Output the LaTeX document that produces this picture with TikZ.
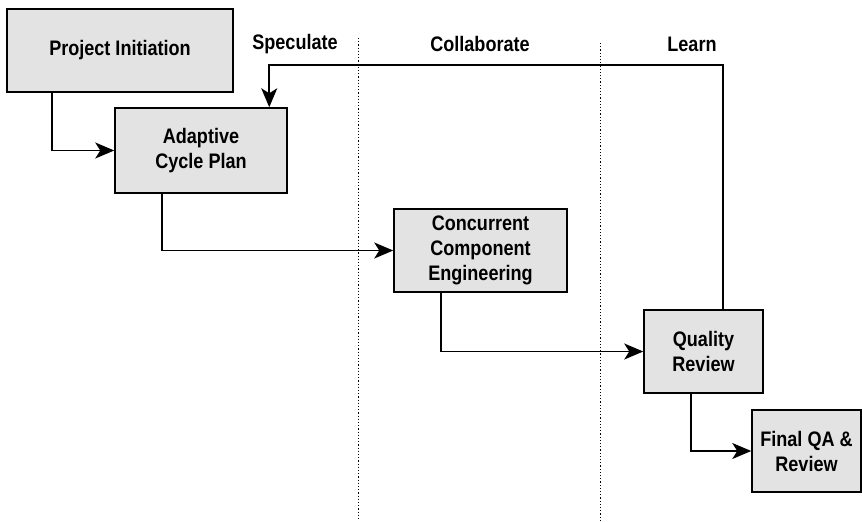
\documentclass[tikz,border=0pt]{standalone}
\usepackage{fontspec}
\setmainfont{Liberation Sans}[FakeStretch=0.86]
\usepackage{tikz}
\usetikzlibrary{calc,arrows.meta}
\usepackage{xcolor}
\definecolor{boxgray}{RGB}{227,227,227}
\newcommand{\boxfont}{\fontsize{10.5}{12.5}\selectfont\bfseries}

\begin{document}
\begin{tikzpicture}[x=0.5pt,y=-0.5pt,
  stage/.style={draw=black, line width=0.75pt, fill=boxgray, align=center, inner sep=0pt, font=\boxfont},
  phase/.style={font=\boxfont, inner sep=0pt},
  flow/.style={-{Stealth[length=9.5pt,width=8pt,inset=2.5pt]}, line width=0.8pt},
  lane/.style={line width=0.45pt, dash pattern=on 0.6pt off 1pt}]

\useasboundingbox (0,0) rectangle (862,521);

% Phase labels and lane dividers
\node[phase] (spec) at (295,44) {Speculate};
\node[phase] (coll) at (480,44) {Collaborate};
\node[phase] (learn) at (692,44) {Learn};

\draw[lane] (358,38) -- (358,521);
\draw[lane] (600,43) -- (600,521);

% Stages
\node[stage, minimum width=113pt, minimum height=41.5pt] (pi) at (120,50.5) {Project Initiation};
\node[stage, minimum width=86pt, minimum height=42.5pt] (acp) at (201,150.5) {Adaptive\\Cycle Plan};
\node[stage, minimum width=86.5pt, minimum height=41.5pt] (cce) at (480.5,250.5) {Concurrent\\Component\\Engineering};
\node[stage, minimum width=59.5pt, minimum height=41.5pt] (qr) at (703.5,351.5) {Quality\\Review};
\node[stage, minimum width=54.5pt, minimum height=41pt] (fin) at (806.5,451) {Final QA \&\\Review};

% Flow between stages
\draw[flow] ($(pi.south west)+(46,0)$) |- (acp.west);
\draw[flow] ($(acp.south west)+(48,0)$) |- (cce.west);
\draw[flow] ($(cce.south west)+(48,0)$) |- (qr.west);
\draw[flow] ($(qr.south west)+(48,0)$) |- (fin.west);

% Learning loop back to the cycle plan
\coordinate (loop) at ($(qr.north west)+(80,-244)$);
\draw[flow] ($(qr.north west)+(80,0)$) -- (loop) -| ($(acp.north west)+(155,0)$);

\end{tikzpicture}
\end{document}
